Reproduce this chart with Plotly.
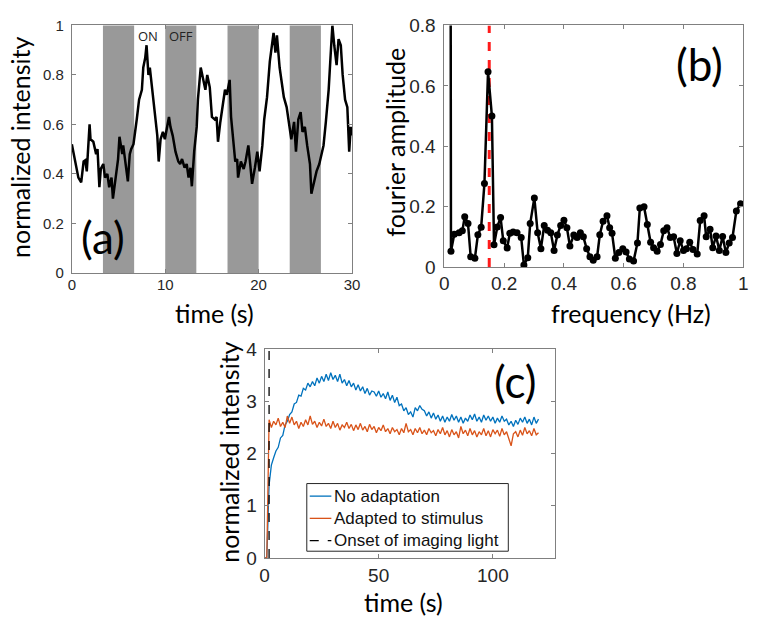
import plotly.graph_objects as go

W, H = 765, 626

# ---- panel (a): intensity trace vs time, with ON/OFF stimulus bands
a_time = [0.0, 0.4, 0.7, 1.0, 1.26, 1.45, 1.6, 1.9, 2.0, 2.3, 2.6, 2.75, 2.95, 3.1, 3.37, 3.55,
          3.8, 4.0, 4.25, 4.4, 4.7, 4.95, 5.1, 5.4, 5.5, 5.75, 6.0, 6.2, 6.35, 6.6, 6.8, 6.95,
          7.2, 7.5, 7.65, 7.86, 8.0, 8.2, 8.35, 8.56, 8.8, 9.0, 9.15, 9.3, 9.5, 9.75, 9.96, 10.2,
          10.4, 10.56, 10.8, 11.1, 11.4, 11.6, 11.8, 12.07, 12.3, 12.5, 12.7, 12.85, 13.1, 13.37,
          13.5, 13.8, 14.07, 14.3, 14.5, 14.77, 15.0, 15.3, 15.5, 15.65, 15.9, 16.2, 16.4, 16.6,
          16.9, 17.05, 17.3, 17.5, 17.7, 17.8, 18.1, 18.4, 18.6, 18.9, 19.1, 19.3, 19.6, 19.86,
          20.1, 20.4, 20.6, 20.9, 21.2, 21.4, 21.6, 21.8, 21.96, 22.25, 22.5, 22.7, 23.0, 23.3,
          23.5, 23.8, 24.0, 24.25, 24.5, 24.7, 24.95, 25.2, 25.5, 25.65, 25.9, 26.2, 26.5, 26.7,
          26.95, 27.2, 27.5, 27.75, 27.9, 28.1, 28.35, 28.56, 28.8, 29.0, 29.26, 29.5, 29.7,
          29.86, 30.0]
a_value = [0.52, 0.45, 0.385, 0.366, 0.45, 0.455, 0.41, 0.60, 0.54, 0.53, 0.48, 0.50, 0.346,
           0.42, 0.44, 0.385, 0.40, 0.346, 0.385, 0.30, 0.385, 0.46, 0.55, 0.48, 0.515, 0.45,
           0.37, 0.48, 0.50, 0.52, 0.57, 0.62, 0.70, 0.74, 0.83, 0.87, 0.92, 0.80, 0.83, 0.75,
           0.685, 0.61, 0.555, 0.45, 0.54, 0.57, 0.54, 0.59, 0.63, 0.59, 0.555, 0.49, 0.45, 0.44,
           0.46, 0.425, 0.44, 0.385, 0.425, 0.35, 0.49, 0.59, 0.70, 0.83, 0.78, 0.74, 0.80, 0.75,
           0.63, 0.62, 0.63, 0.53, 0.61, 0.685, 0.74, 0.72, 0.78, 0.63, 0.515, 0.45, 0.46, 0.385,
           0.45, 0.42, 0.45, 0.515, 0.44, 0.36, 0.425, 0.49, 0.41, 0.515, 0.62, 0.71, 0.855,
           0.906, 0.97, 0.89, 0.96, 0.83, 0.76, 0.71, 0.67, 0.59, 0.54, 0.61, 0.49, 0.62, 0.65,
           0.57, 0.59, 0.515, 0.44, 0.32, 0.36, 0.41, 0.44, 0.48, 0.515, 0.61, 0.74, 0.906, 1.0,
           0.92, 0.84, 0.945, 0.92, 0.80, 0.70, 0.67, 0.49, 0.59, 0.555]
band_start = [3.33, 10.0, 16.67, 23.33]
band_end = [6.67, 13.33, 20.0, 26.67]

# ---- panel (b): fourier spectrum
b_freq = [0.016, 0.022, 0.033, 0.049, 0.060, 0.068, 0.079, 0.088, 0.102, 0.112, 0.123, 0.134,
          0.146, 0.159, 0.166, 0.177, 0.188, 0.197, 0.210, 0.219, 0.230, 0.243, 0.257, 0.266,
          0.279, 0.287, 0.301, 0.312, 0.323, 0.334, 0.345, 0.356, 0.367, 0.378, 0.389, 0.400,
          0.410, 0.420, 0.433, 0.444, 0.455, 0.465, 0.476, 0.487, 0.498, 0.511, 0.520, 0.531,
          0.544, 0.553, 0.561, 0.572, 0.584, 0.597, 0.608, 0.619, 0.633, 0.646, 0.654, 0.668,
          0.679, 0.690, 0.700, 0.712, 0.723, 0.734, 0.745, 0.756, 0.767, 0.778, 0.789, 0.800,
          0.810, 0.821, 0.832, 0.846, 0.856, 0.869, 0.876, 0.889, 0.898, 0.909, 0.920, 0.931,
          0.942, 0.953, 0.964, 0.977, 0.991]
b_amp = [5.0, 0.052, 0.109, 0.114, 0.120, 0.167, 0.144, 0.034, 0.029, 0.107, 0.132, 0.277,
         0.647, 0.500, 0.074, 0.133, 0.164, 0.087, 0.063, 0.112, 0.116, 0.114, 0.098, 0.007,
         0.031, 0.144, 0.229, 0.114, 0.061, 0.138, 0.122, 0.114, 0.055, 0.106, 0.138, 0.155,
         0.130, 0.070, 0.106, 0.098, 0.114, 0.100, 0.061, 0.034, 0.023, 0.034, 0.107, 0.152,
         0.170, 0.130, 0.112, 0.029, 0.048, 0.061, 0.050, 0.027, 0.020, 0.080, 0.196, 0.200,
         0.141, 0.082, 0.064, 0.052, 0.075, 0.120, 0.130, 0.098, 0.100, 0.045, 0.087, 0.055,
         0.061, 0.082, 0.058, 0.043, 0.154, 0.170, 0.100, 0.125, 0.064, 0.103, 0.055, 0.101,
         0.048, 0.080, 0.098, 0.186, 0.210]
stim_freq = 0.15

# ---- panel (c): adaptation traces
c_time = list(range(0, 121))
c_no_adapt = [0, 0, 1.40, 1.78, 1.92, 2.05, 2.12, 2.30, 2.35, 2.55, 2.62, 2.75, 2.80, 2.95,
              2.98, 3.12, 3.10, 3.25, 3.22, 3.35, 3.28, 3.38, 3.30, 3.45, 3.35, 3.48, 3.38,
              3.52, 3.40, 3.55, 3.42, 3.50, 3.38, 3.52, 3.35, 3.42, 3.30, 3.40, 3.28, 3.35,
              3.22, 3.32, 3.20, 3.28, 3.15, 3.25, 3.12, 3.20, 3.18, 3.10, 3.20, 3.08, 3.15,
              3.05, 3.18, 3.02, 3.12, 2.98, 3.08, 2.92, 2.95, 2.82, 2.88, 2.75, 2.80, 2.70,
              2.88, 2.82, 2.92, 2.85, 2.82, 2.72, 2.80, 2.68, 2.78, 2.66, 2.74, 2.62, 2.72,
              2.60, 2.70, 2.62, 2.75, 2.64, 2.72, 2.60, 2.70, 2.58, 2.68, 2.62, 2.74, 2.65,
              2.76, 2.62, 2.70, 2.60, 2.74, 2.64, 2.72, 2.62, 2.70, 2.58, 2.68, 2.60, 2.72,
              2.62, 2.66, 2.55, 2.62, 2.52, 2.64, 2.56, 2.68, 2.60, 2.70, 2.58, 2.66, 2.55,
              2.70, 2.58, 2.66]
c_adapted = [0, 0, 2.65, 2.50, 2.62, 2.55, 2.68, 2.52, 2.60, 2.50, 2.72, 2.58, 2.70, 2.55,
             2.62, 2.48, 2.60, 2.52, 2.65, 2.55, 2.72, 2.56, 2.62, 2.50, 2.60, 2.53, 2.66,
             2.52, 2.58, 2.48, 2.62, 2.50, 2.58, 2.45, 2.55, 2.50, 2.60, 2.48, 2.56, 2.44,
             2.55, 2.46, 2.58, 2.45, 2.52, 2.42, 2.56, 2.46, 2.52, 2.40, 2.50, 2.44, 2.55,
             2.42, 2.48, 2.38, 2.50, 2.42, 2.46, 2.36, 2.48, 2.40, 2.58, 2.42, 2.46, 2.36,
             2.48, 2.40, 2.50, 2.38, 2.45, 2.36, 2.48, 2.40, 2.44, 2.34, 2.46, 2.38, 2.50,
             2.36, 2.44, 2.32, 2.46, 2.36, 2.42, 2.30, 2.52, 2.38, 2.45, 2.34, 2.48, 2.36,
             2.44, 2.32, 2.42, 2.36, 2.48, 2.34, 2.44, 2.32, 2.46, 2.38, 2.45, 2.33, 2.48,
             2.36, 2.42, 2.30, 2.15, 2.38, 2.42, 2.32, 2.45, 2.35, 2.50, 2.38, 2.44, 2.34,
             2.48, 2.36, 2.40]
onset_time = 2
legend_names = ['No adaptation', 'Adapted to stimulus', 'Onset of imaging light']
legend_colors = ['#0072BD', '#D95319', 'black']
legend_dash = ['solid', 'solid', 'dash']


def px(x):
    return x / W


def py(y):
    return 1 - y / H


fig = go.Figure()

fig.add_trace(go.Scatter(x=a_time, y=a_value, mode='lines', line=dict(color='black', width=2.5),
                         showlegend=False, xaxis='x', yaxis='y'))

fig.add_trace(go.Scatter(x=[stim_freq, stim_freq], y=[0, 0.8], mode='lines',
                         line=dict(color='#ff1a1a', width=3, dash='dash'),
                         showlegend=False, xaxis='x2', yaxis='y2'))
fig.add_trace(go.Scatter(x=b_freq, y=b_amp, mode='lines+markers',
                         line=dict(color='black', width=2.5),
                         marker=dict(color='black', size=7),
                         showlegend=False, xaxis='x2', yaxis='y2'))

fig.add_trace(go.Scatter(x=c_time, y=c_no_adapt, mode='lines', name=legend_names[0],
                         line=dict(color=legend_colors[0], width=1.3),
                         showlegend=False, xaxis='x3', yaxis='y3'))
fig.add_trace(go.Scatter(x=c_time, y=c_adapted, mode='lines', name=legend_names[1],
                         line=dict(color=legend_colors[1], width=1.3),
                         showlegend=False, xaxis='x3', yaxis='y3'))
fig.add_trace(go.Scatter(x=[onset_time, onset_time], y=[0, 4], mode='lines', name=legend_names[2],
                         line=dict(color=legend_colors[2], width=1.3, dash='dash'),
                         showlegend=False, xaxis='x3', yaxis='y3'))

for s, e in zip(band_start, band_end):
    fig.add_shape(type='rect', xref='x', yref='y domain', x0=s, x1=e, y0=0, y1=1,
                  fillcolor='#999999', line=dict(width=0), layer='below')

# legend box for panel (c), drawn MATLAB-style with short line samples
fig.add_shape(type='rect', xref='paper', yref='paper', x0=px(307), x1=px(512),
              y0=py(560), y1=py(490), fillcolor='white',
              line=dict(color='#262626', width=1), layer='above')
for i, (name, col, dash) in enumerate(zip(legend_names, legend_colors, legend_dash)):
    yy = 503 + i * 23
    fig.add_shape(type='line', xref='paper', yref='paper', x0=px(310), x1=px(332),
                  y0=py(yy), y1=py(yy), line=dict(color=col, width=1.3, dash=dash),
                  layer='above')
    fig.add_annotation(text=name, x=px(333), y=py(yy), xref='paper', yref='paper',
                       showarrow=False, xanchor='left', yanchor='middle',
                       font=dict(family='Liberation Sans', size=17, color='#111'))


def axis(domain, rng, tick_size, dtick, anchor, standoff):
    return dict(domain=domain, range=rng, anchor=anchor, dtick=dtick, tick0=0,
                showline=True, linecolor='#808080', linewidth=1, mirror='ticks',
                ticks='inside', ticklen=4, tickcolor='#808080', showgrid=False,
                zeroline=False, ticklabelstandoff=standoff,
                tickfont=dict(family='Liberation Sans', size=tick_size, color='#262626'))


fig.update_layout(
    width=W, height=H, margin=dict(l=0, r=0, t=0, b=0),
    paper_bgcolor='white', plot_bgcolor='white',
    xaxis=axis([px(68), px(353)], [0, 30], 15, 10, 'y', -2),
    yaxis=axis([py(272), py(16)], [0, 1], 15, 0.2, 'x', 4),
    xaxis2=axis([px(447), px(751)], [0, 1], 19, 0.2, 'y2', -1),
    yaxis2=axis([py(266), py(16)], [0, 0.8], 19, 0.2, 'x2', 4),
    xaxis3=axis([px(264), px(559)], [0, 127], 19, 50, 'y3', 0),
    yaxis3=axis([py(567), py(351)], [0, 4], 19, 1, 'x3', 3),
    showlegend=False,
)

title_font = dict(family='Lato', size=25, color='black')
notes = [
    ('normalized intensity', 16, 142, -90),
    ('time (s)', 213, 313, 0),
    ('fourier amplitude', 397, 137, -90),
    ('frequency (Hz)', 637, 314, 0),
    ('normalized intensity', 227, 458, -90),
    ('time (s)', 405, 613, 0),
]
for text, x, y, ang in notes:
    fig.add_annotation(text=text, x=px(x), y=py(y), xref='paper', yref='paper',
                       showarrow=False, textangle=ang, font=title_font,
                       xanchor='center', yanchor='middle')

for text, x, y in [('(a)', 100, 235), ('(b)', 706, 56), ('(c)', 519, 384)]:
    fig.add_annotation(text=text, x=px(x), y=py(y), xref='paper', yref='paper',
                       showarrow=False, font=dict(family='Lato', size=44, color='black'),
                       xanchor='center', yanchor='middle')

for text, x in [('ON', 145), ('OFF', 179)]:
    fig.add_annotation(text=text, x=px(x), y=py(27), xref='paper', yref='paper',
                       showarrow=False, font=dict(family='Open Sans', size=13, color='#222'),
                       xanchor='center', yanchor='middle')

fig.write_html('out.html', config={'displayModeBar': False},
               post_script="document.body.style.margin='0';")
